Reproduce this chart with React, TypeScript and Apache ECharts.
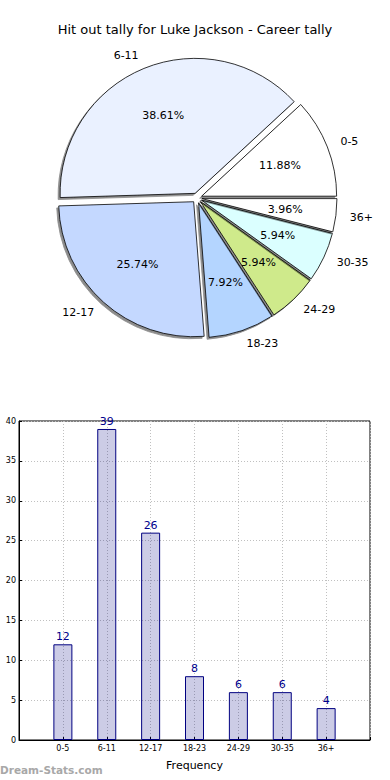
import React, { useEffect, useRef } from "react";
import * as echarts from "echarts";

const TITLE = "Hit out tally for Luke Jackson - Career tally";
const categories = ["0-5", "6-11", "12-17", "18-23", "24-29", "30-35", "36+"];
const tallies = [12, 39, 26, 8, 6, 6, 4];
const sliceColors = ["#ffffff", "#eaf1ff", "#c4d8ff", "#b4d5ff", "#cfea8b", "#dbffff", "#ffffff"];
const yTicks = [0, 5, 10, 15, 20, 25, 30, 35, 40];
const xAxisTitle = "Frequency";
const watermark = "Dream-Stats.com";

const FONT = "DejaVu Sans";

export default function App() {
  const ref = useRef<HTMLDivElement>(null);
  useEffect(() => {
    if (!ref.current) return;
    const chart = echarts.init(ref.current, null, { renderer: "svg" });
    const R = 135;
    const CENTER = [197, 198];
    const total = tallies.reduce((a, b) => a + b, 0);
    const pieData = categories.map((c, i) => ({
      name: c,
      value: tallies[i],
      selected: true,
      itemStyle: { color: sliceColors[i] },
    }));
    const pctData = categories.map((c, i) => ({
      name: c,
      value: tallies[i],
      selected: true,
    }));
    const option: any = {
      animation: false,
      backgroundColor: "#ffffff",
      textStyle: { fontFamily: FONT },
      title: {
        text: TITLE,
        left: "center",
        top: 18,
        textStyle: { fontFamily: FONT, fontSize: 13, fontWeight: "normal", color: "#000" },
      },
      graphic: [
        {
          type: "text",
          left: 0,
          top: 764,
          style: { text: watermark, fontFamily: FONT, fontSize: 10.5, fontWeight: "bold", fill: "#a8a8a8" },
        },
      ],
      grid: {
        left: 19,
        right: 20,
        top: 421,
        bottom: 40,
        show: true,
        borderColor: "#000",
        borderWidth: 1,
        backgroundColor: "transparent",
      },
      xAxis: {
        type: "value",
        min: 0,
        max: 8,
        interval: 1,
        name: xAxisTitle,
        nameLocation: "middle",
        nameGap: 20,
        nameTextStyle: { fontFamily: FONT, fontSize: 11, color: "#000" },
        axisLine: { show: true, lineStyle: { color: "#000", width: 1 } },
        axisTick: { show: true, inside: true, length: 3, lineStyle: { color: "#000" } },
        axisLabel: {
          fontSize: 8,
          color: "#000",
          margin: 4,
          fontFamily: FONT,
          formatter: (v: number) => (v >= 1 && v <= categories.length ? categories[Math.round(v) - 1] : ""),
        },
        splitLine: { show: true, lineStyle: { color: "#c0c0c0", type: [1, 2], width: 1 } },
      },
      yAxis: {
        type: "value",
        min: yTicks[0],
        max: yTicks[yTicks.length - 1],
        interval: 5,
        axisLine: { show: true, lineStyle: { color: "#000", width: 1 } },
        axisTick: { show: true, inside: true, length: 3, lineStyle: { color: "#000" } },
        axisLabel: { fontSize: 8, color: "#000", margin: 3, fontFamily: FONT },
        splitLine: { show: true, lineStyle: { color: "#c0c0c0", type: [1, 2], width: 1 } },
      },
      series: [
        {
          type: "pie",
          center: CENTER,
          radius: [0, R],
          startAngle: 0,
          clockwise: false,
          selectedMode: "multiple",
          selectedOffset: 5,
          avoidLabelOverlap: false,
          data: pieData,
          itemStyle: {
            borderColor: "#000",
            borderWidth: 0.8,
            shadowBlur: 0,
            shadowOffsetX: -2,
            shadowOffsetY: 2,
            shadowColor: "rgba(0,0,0,0.45)",
          },
          label: {
            show: true,
            position: "outside",
            formatter: "{b}",
            fontFamily: FONT,
            fontSize: 11,
            color: "#000",
            distanceToLabelLine: 0,
          },
          labelLine: { show: false, length: 14, length2: 0 },
          emphasis: { disabled: true },
        },
        {
          type: "pie",
          center: CENTER,
          radius: [R * 0.2, R],
          startAngle: 0,
          clockwise: false,
          selectedMode: "multiple",
          selectedOffset: 5,
          avoidLabelOverlap: false,
          silent: true,
          data: pctData,
          itemStyle: { color: "rgba(0,0,0,0)", borderWidth: 0 },
          label: {
            show: true,
            position: "inside",
            formatter: (p: any) => ((p.value / total) * 100).toFixed(2) + "%",
            fontFamily: FONT,
            fontSize: 11,
            color: "#000",
          },
          labelLine: { show: false },
          emphasis: { disabled: true },
        },
        {
          type: "bar",
          data: categories.map((c, i) => [i + 1, tallies[i]]),
          barWidth: 19,
          itemStyle: { color: "rgba(0,0,128,0.2)", borderColor: "#000080", borderWidth: 1 },
          label: {
            show: true,
            position: "top",
            distance: 2,
            fontFamily: FONT,
            fontSize: 11,
            color: "#00008b",
          },
          emphasis: { disabled: true },
        },
      ],
    };
    chart.setOption(option);
    return () => chart.dispose();
  }, []);
  return (
    <div
      ref={ref}
      style={{ position: "fixed", left: 0, top: 0, width: 390, height: 780, background: "#fff" }}
    />
  );
}
